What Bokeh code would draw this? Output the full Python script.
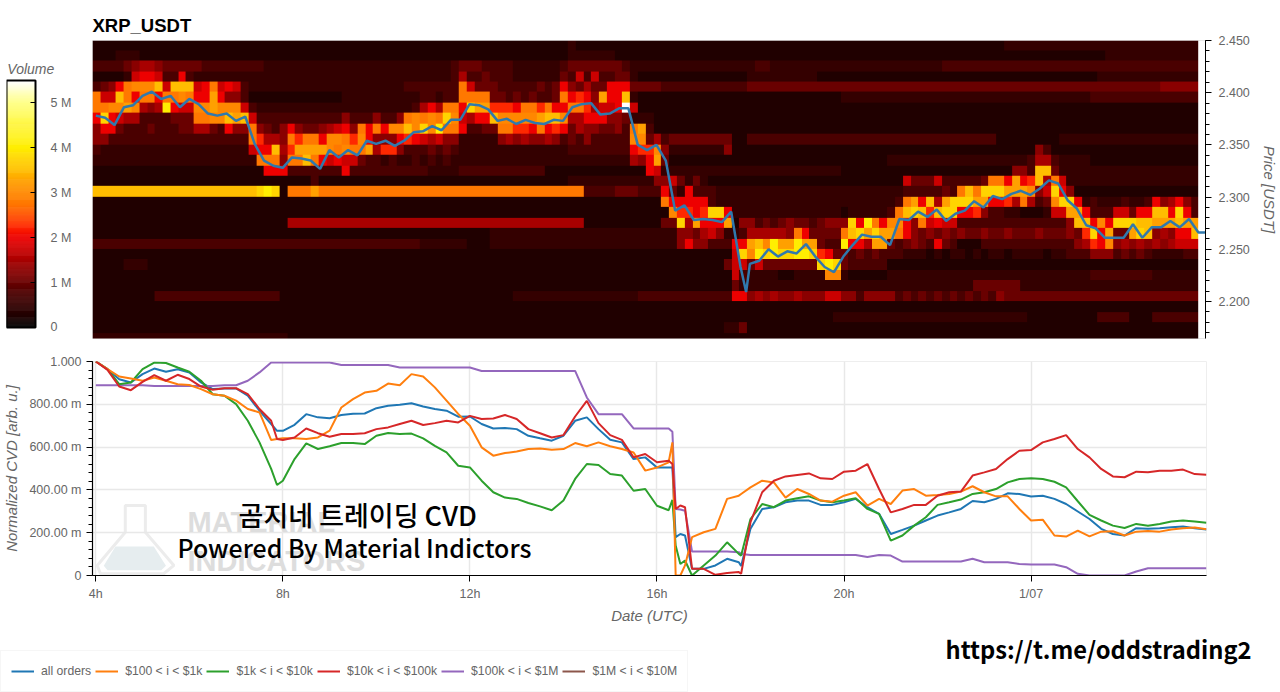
import numpy as np

from bokeh.embed import file_html
from bokeh.layouts import column, row
from bokeh.models import FixedTicker, Label, Legend, LegendItem, LinearColorMapper, Range1d
from bokeh.plotting import figure
from bokeh.resources import INLINE

# heatmap: one string per price bin (top = 2.44-2.45), one char per 10 min column
# char is volume in units of 0.25 M (base 23, so m = 5.5 M)
heat_rows = [
    "1111111111 1111111111 1111111111 1111111111 1111111111 1111111111 1211111111 1111111111 1111111111 1111111111 1111111111 1111111222 2222222222 2222222222 22",
    "1112221111 1111111111 1111111111 1111111111 1111111111 1111111111 1222222111 1111111111 1111111111 1111111111 1111111111 1111111111 1111111111 2222222222 22",
    "3333456654 4444333333 3322222222 2222222222 2222223444 3333222222 3444444432 2222222222 2222233222 2222222222 2222222223 3333333333 3333333333 3333333333 33",
    "1111278873 3832222222 2222222222 2222222222 2222223633 4333222222 4373733442 1111111111 1111222222 2221111111 1111111111 1111111111 1111111112 2222222222 22",
    "3458bccce7 eee78b7873 2222222222 2222222222 3333333b74 4433333434 8546448884 4443333333 3333444444 4444444444 4444444444 4444444444 4444444444 4444444555 55",
    "b77eb8bb8b bcb88d8553 1111111111 1122222222 2233233bbb b443434334 b8985d88e2 1111111111 1111111111 1111112222 2222222222 2222222222 2222222233 3333333333 33",
    "bbccdc656g 877ccdccc7 3222222222 2222222222 23686bb8fd d9998bb9b8 8bb96778m7 1111111111 1111111111 1111111111 1111111111 1111111111 1111111111 1111111111 11",
    "8f87663333 444bbccede 7333333333 3353335335 bcbcbfc768 8ecccccdee c668885542 2211111111 1111111111 1111111111 1111111111 1111111111 1111111111 1111111111 11",
    "5884333433 3446643855 b543585445 6785b8b8cc ecfcgbb833 44bb998b89 846554453b d311111111 1111111111 1111111111 1111111111 1111111111 1111111111 1111111111 11",
    "5533333333 3333333333 b9665b9bb8 ccb9c85558 9876755222 2256565565 343533333c c463444444 4411333333 3333333333 3333333333 3333331111 1111222222 2222222222 22",
    "3222222222 2222222222 788e69dddd cbcbbd6995 3334343222 2222222222 2333333338 99c5222222 2511111111 1111111111 1111111111 1111111111 1531111111 1111111111 11",
    "2222222222 2222222222 2bbb5bbeb8 7877433232 2323232222 2222222222 2222222226 58d4111111 1111111111 1111111111 1122222222 2222222222 3663222211 1111111111 11",
    "1111111111 1111111111 1188833333 3383333333 3332222333 3333333311 1111111111 1872222222 2222222222 2222221111 1111111111 1111111155 3ee4222222 2222222222 22",
    "1111111111 1111111111 1111111131 1111111111 1111111111 1111111111 1222222222 2255742421 1111111111 1111111111 1111744473 33334bb8d8 9e6b722222 2222222222 22",
    "eeeeeeeeee eeeeeeeeee efgf1bbbdb bbbbbbbbbb bbbbbbbbbb bbbbbbbbbb bbb3333444 3338428333 2222222222 2222222222 2222333334 3bebfffddd c57f851111 1111111111 11",
    "1111111111 1111111111 1111111111 1111111111 1111111111 1111111111 1111111111 111b888883 2222222222 2222222222 2223bd8e6d fffdd8896b 634cff8232 2232238568 53",
    "1111111111 1111111111 1111111111 1111111111 1111111111 1111111111 1111111111 1111c9989f f822222222 2222221222 223befe9ef f889533221 11277dd833 377488ee8f 83",
    "1111111111 1111111111 1111166666 6666666666 6666666666 6666666666 6661111111 11144f6d88 8d15534345 4434555f8g b8cc85b787 7333333333 333335ee8c 8fffeeddde dd",
    "1111111111 1111111111 1111111111 1111111111 1111111111 1222222222 2222222222 2222255467 5223666665 b84444befd fddb854545 4544544544 45444549f8 d44dfe5658 8e",
    "3333333333 3333333333 3333333333 3333333333 3322222211 1222222222 2222222222 2222258553 3388decgdd gdd433g886 dd43454384 3111333333 3333335698 c565656567 77",
    "1111111111 1111111111 1111111111 1111111111 1111111111 1111111111 1111111111 1111111111 117fcgfgff ggf9844343 4333222121 2212122122 2212233355 5343432222 33",
    "1111222111 1111111111 1111111111 1111111111 1111111111 1111111111 1111111111 1111111111 1477474444 444fgf4333 3311111111 1111111111 1111111111 1111111111 11",
    "1111111111 1111111111 1111111111 1111111111 1111111111 1111111111 1111111111 1111111111 1173222211 2222cc2111 1122222222 2222222222 2222222233 3333332222 22",
    "1111111111 1111111111 1111111111 1111111111 1111111111 1111111111 1111111111 1111111111 1142222222 2222222222 2222222222 2224444442 2222222222 2222222222 22",
    "1111111133 3333333333 3333111111 1111111111 1111111111 1111222222 2222222222 3333333333 3388565655 6555775535 5553434343 4343435444 4444444444 4444444444 44",
    "1111111111 1111111111 1111111111 1111111111 1111111111 1111111111 1111111111 1111111111 1111111111 1111111111 1111111111 1111111111 1111111111 1111111111 11",
    "1111111111 1111111111 1111111111 1111111111 1111111111 1111111111 1111111111 1111111111 1111111111 1111122222 2222222222 2222222222 1111111113 3331113333 33",
    "1111111111 1111111111 1111111111 1111111111 1111111111 1111111111 1111111111 1111111111 1224111111 1111111111 1111111111 1111111111 1111111111 1111111111 11",
    "2222222222 2222222222 2222211111 1111111111 1111111111 1111111111 1111111111 1111111111 1111111111 1111111111 1111111111 1111111111 1111111111 1111111111 11",
]

price_hours = [4.0, 4.2, 4.4, 4.6, 4.8, 5.0, 5.2, 5.4, 5.6, 5.8, 6.0, 6.2, 6.4, 6.6, 6.8, 7.0, 7.2, 7.4, 7.6, 7.8,
               8.0, 8.2, 8.4, 8.6, 8.8, 9.0, 9.2, 9.4, 9.6, 9.8, 10.0, 10.2, 10.4, 10.6, 10.8, 11.0, 11.2, 11.4, 11.6, 11.8,
               12.0, 12.2, 12.4, 12.6, 12.8, 13.0, 13.2, 13.4, 13.6, 13.8, 14.0, 14.2, 14.4, 14.6, 14.8, 15.0, 15.2, 15.4, 15.6, 15.8,
               16.0, 16.2, 16.4, 16.6, 16.8, 17.0, 17.2, 17.4, 17.6, 17.8, 17.92, 18.0, 18.2, 18.4, 18.6, 18.8, 19.0, 19.2, 19.4, 19.6, 19.8,
               20.0, 20.2, 20.4, 20.6, 20.8, 21.0, 21.2, 21.4, 21.6, 21.8, 22.0, 22.2, 22.4, 22.6, 22.8, 23.0, 23.2, 23.4, 23.6, 23.8,
               24.0, 24.2, 24.4, 24.6, 24.8, 25.0, 25.2, 25.4, 25.6, 25.8, 26.0, 26.2, 26.4, 26.6, 26.8, 27.0, 27.2, 27.4, 27.6, 27.75]
price = [2.378, 2.376, 2.369, 2.386, 2.388, 2.397, 2.401, 2.394, 2.397, 2.386, 2.394, 2.389, 2.380, 2.378, 2.380, 2.373, 2.377, 2.351, 2.335, 2.330,
         2.328, 2.338, 2.337, 2.335, 2.327, 2.345, 2.338, 2.345, 2.340, 2.354, 2.351, 2.354, 2.349, 2.354, 2.362, 2.363, 2.368, 2.364, 2.374, 2.374,
         2.389, 2.388, 2.384, 2.373, 2.375, 2.370, 2.374, 2.371, 2.370, 2.374, 2.373, 2.386, 2.389, 2.390, 2.379, 2.380, 2.385, 2.385, 2.350, 2.345,
         2.350, 2.335, 2.287, 2.292, 2.278, 2.279, 2.278, 2.276, 2.286, 2.233, 2.209, 2.236, 2.239, 2.250, 2.243, 2.248, 2.246, 2.255, 2.243, 2.233, 2.228,
         2.243, 2.254, 2.264, 2.262, 2.262, 2.254, 2.279, 2.278, 2.286, 2.281, 2.288, 2.277, 2.284, 2.287, 2.296, 2.290, 2.301, 2.298, 2.303, 2.306,
         2.302, 2.308, 2.316, 2.313, 2.297, 2.289, 2.273, 2.270, 2.261, 2.261, 2.261, 2.274, 2.261, 2.271, 2.271, 2.277, 2.271, 2.279, 2.266, 2.266]

# cvd values in milli units
cvd_hours = [4, 4.25, 4.5, 4.75, 5, 5.25, 5.5, 5.75, 6, 6.25, 6.5, 6.75, 7, 7.25, 7.5, 7.75, 7.875,
             8, 8.25, 8.5, 8.75, 9, 9.25, 9.5, 9.75, 10, 10.25, 10.5, 10.75, 11, 11.25, 11.5, 11.75,
             12, 12.25, 12.5, 12.75, 13, 13.25, 13.5, 13.75, 14, 14.25, 14.5, 14.75, 15, 15.25, 15.5, 15.75,
             16, 16.25, 16.33, 16.4, 16.5, 16.6, 16.75, 17, 17.25, 17.5, 17.75, 17.8,
             18, 18.25, 18.5, 18.75, 19, 19.25, 19.5, 19.75, 20, 20.25, 20.5, 20.75, 21, 21.25, 21.5, 21.75,
             22, 22.25, 22.5, 22.75, 23, 23.25, 23.5, 23.75, 24, 24.25, 24.5, 24.75, 25, 25.25, 25.5, 25.75,
             26, 26.25, 26.5, 26.75, 27, 27.25, 27.5, 27.75]
cvd_all = [1000, 964, 917, 902, 941, 967, 952, 964, 949, 902, 871, 874, 874, 840, 770, 708, 676,
           676, 704, 754, 739, 735, 750, 756, 757, 782, 793, 798, 805, 790, 778, 770, 742,
           743, 708, 687, 689, 684, 653, 641, 630, 653, 723, 739, 684, 634, 622, 544, 552,
           505, 505, 505, 179, 194, 187, 31, 31, 47, 78, 62, 44,
           218, 311, 319, 342, 350, 350, 330, 330, 342, 358, 319, 288, 194, 213, 233, 257,
           280, 295, 311, 348, 342, 358, 384, 381, 369, 373, 358, 334, 299, 264, 218, 194,
           187, 221, 218, 221, 225, 229, 221, 215]
cvd_100_1k = [1000, 964, 930, 921, 910, 925, 910, 894, 890, 871, 847, 840, 817, 778, 762, 633, 638,
              641, 641, 638, 645, 677, 785, 824, 855, 863, 897, 889, 941, 930, 879, 817, 755,
              700, 599, 560, 572, 579, 591, 594, 588, 591, 619, 604, 622, 604, 591, 575, 490,
              505, 529, 622, 0, 0, 47, 179, 202, 218, 358, 373, 381,
              412, 443, 435, 364, 404, 381, 350, 345, 373, 389, 327, 358, 334, 397, 404, 373,
              376, 381, 392, 417, 389, 370, 370, 311, 257, 261, 187, 182, 210, 183, 205, 207,
              187, 205, 208, 205, 215, 221, 224, 216]
cvd_1k_10k = [1000, 964, 894, 902, 964, 995, 993, 972, 952, 910, 847, 840, 801, 723, 622, 498, 423,
              443, 544, 617, 591, 604, 619, 619, 614, 653, 666, 661, 663, 641, 606, 575, 513,
              505, 443, 389, 364, 358, 339, 323, 305, 350, 451, 521, 516, 474, 467, 396, 404,
              326, 305, 353, 140, 54, 70, 0, 47, 93, 155, 101, 93,
              264, 334, 319, 350, 361, 370, 350, 342, 350, 361, 311, 288, 163, 187, 233, 272,
              330, 342, 355, 381, 389, 404, 435, 451, 454, 451, 438, 412, 347, 283, 257, 233,
              222, 241, 233, 241, 252, 257, 252, 246]
cvd_10k_100k = [1000, 961, 883, 866, 905, 936, 910, 938, 918, 883, 868, 875, 875, 848, 778, 723, 638,
                633, 645, 687, 665, 648, 661, 661, 665, 684, 692, 708, 723, 703, 712, 723, 715,
                746, 731, 734, 750, 731, 684, 665, 645, 656, 743, 816, 712, 656, 634, 552, 568,
                529, 536, 521, 311, 327, 319, 31, 31, 3, 12, 16, 8,
                249, 389, 443, 463, 470, 477, 454, 451, 485, 490, 521, 404, 295, 311, 330, 330,
                373, 389, 392, 467, 482, 498, 544, 583, 586, 622, 638, 656, 591, 552, 498, 463,
                459, 485, 482, 490, 490, 495, 474, 471]
cvd_100k_1m = [889, 889, 889, 889, 889, 886, 886, 886, 886, 886, 886, 889, 889, 910, 949, 995, 995,
               995, 995, 995, 995, 995, 984, 984, 984, 984, 984, 972, 972, 972, 972, 972, 972,
               972, 956, 956, 956, 956, 956, 956, 956, 956, 956, 832, 754, 754, 754, 687, 687,
               687, 687, 672, 311, 308, 303, 112, 112, 112, 112, 109, 101,
               96, 96, 96, 96, 96, 96, 96, 96, 96, 96, 86, 96, 93, 65, 65, 65,
               65, 65, 65, 78, 62, 62, 62, 54, 51, 51, 51, 39, 8, 0, 0, 0,
               0, 19, 34, 34, 34, 34, 34, 34]

legend_labels = ["all orders", "$100 < i < $1k", "$1k < i < $10k", "$10k < i < $100k", "$100k < i < $1M", "$1M < i < $10M"]
legend_colors = ["#1f77b4", "#ff7f0e", "#2ca02c", "#d62728", "#9467bd", "#8c564b"]

cvd_ticks = [0, 200, 400, 600, 800, 1000]
cvd_tick_labels = ["0", "200.00 m", "400.00 m", "600.00 m", "800.00 m", "1.000"]
time_ticks = [4, 8, 12, 16, 20, 24]
time_tick_labels = ["4h", "8h", "12h", "16h", "20h", "1/07"]
volume_ticks = [0, 1000000, 2000000, 3000000, 4000000, 5000000]
volume_tick_labels = ["0", "1 M", "2 M", "3 M", "4 M", "5 M"]

# watermark shapes, behind the lines
flask_x = [4.67, 5.06, 5.06, 5.67, 5.45, 4.10, 4.03, 4.63, 4.63]
flask_y = [327, 327, 202, 47, 8, 8, 47, 202, 327]
flask_liquid_x = [4.42, 5.24, 5.5, 5.4, 4.25, 4.17]
flask_liquid_y = [135, 135, 45, 25, 25, 45]

assert len(price_hours) == len(price)
for s in (cvd_all, cvd_100_1k, cvd_1k_10k, cvd_10k_100k, cvd_100k_1m):
    assert len(s) == len(cvd_hours), len(s)

GREY = "#666666"
x_start, x_end = 3.929, 27.752

# hot style colormap
stops = [0, 0.25, 0.5, 0.75, 1.0, 1.25, 1.5, 1.75, 2.0, 2.25, 2.75, 3.0, 3.25, 3.5, 3.75, 4.0, 5.0, 5.5]
stop_colors = [(0, 0, 0), (34, 0, 0), (53, 0, 0), (76, 0, 0), (106, 0, 0), (138, 0, 0), (170, 0, 0), (204, 0, 0),
               (238, 0, 0), (255, 42, 0), (255, 120, 0), (255, 136, 0), (255, 160, 0), (255, 190, 0), (255, 212, 0),
               (255, 238, 0), (255, 255, 130), (255, 255, 255)]
grid = np.linspace(0, 5.5, 256)
channels = [np.interp(grid, stops, [c[i] for c in stop_colors]) for i in range(3)]
palette = ["#%02x%02x%02x" % (int(r), int(g), int(b)) for r, g, b in zip(*channels)]
mapper = LinearColorMapper(palette=palette, low=0, high=5500000)

heat = np.array([[int(ch, 23) * 250000 for ch in r.replace(" ", "")] for r in heat_rows], dtype=float)
# bottom row first for image, repeated so the cell edges stay sharp
heat_img = np.repeat(np.repeat(heat[::-1], 4, axis=0), 4, axis=1)

# colour bar as its own small figure, frame same height as the heatmap so the row lines up
# frame runs past the bar so the Volume text is not clipped, axis sits at the bar's edge
cb = figure(width=92, height=348, x_range=Range1d(0, 86 / 29), y_range=Range1d(-245000, 6390000), tools="",
            toolbar_location=None, output_backend="svg", y_axis_location="right",
            min_border_left=6, min_border_right=0, min_border_top=40, min_border_bottom=10)
edges = np.linspace(0, 5500000, 257)
cb.quad(left=0, right=1, bottom=edges[:-1], top=edges[1:], fill_color=palette, line_color=palette, line_width=0.5)
cb.quad(left=0, right=1, bottom=0, top=5500000, fill_color=None, line_color="black", line_width=2)
cb.xaxis.visible = False
cb.grid.visible = False
cb.outline_line_color = None
cb.yaxis.fixed_location = 1
cb.yaxis.ticker = FixedTicker(ticks=volume_ticks, minor_ticks=[])
cb.yaxis.major_label_overrides = dict(zip(volume_ticks, volume_tick_labels))
cb.yaxis.axis_line_color = None
cb.yaxis.major_tick_in = 5
cb.yaxis.major_tick_out = 0
cb.yaxis.major_tick_line_color = "black"
cb.yaxis.major_label_standoff = 15
cb.yaxis.major_label_text_font = "Liberation Sans"
cb.yaxis.major_label_text_font_size = "12.5px"
cb.yaxis.major_label_text_color = GREY
cb.add_layout(Label(x=0.03, y=5500000, y_offset=3, text="Volume", text_font="Liberation Sans", text_font_size="14px",
                    text_font_style="italic", text_color=GREY))

top = figure(width=1188, height=348, x_range=Range1d(x_start, x_end), y_range=Range1d(2.1645, 2.45),
             tools="", toolbar_location=None, output_backend="svg", y_axis_location="right",
             min_border_left=0, min_border_right=74, min_border_top=40, min_border_bottom=10,
             title="XRP_USDT")
top.title.text_font = "Liberation Sans"
top.title.text_font_size = "18.5px"
top.title.text_font_style = "bold"
top.title.text_color = "black"
top.title.offset = 0
top.xaxis.visible = False
top.grid.visible = False
top.outline_line_color = "#e8e8e8"

top.image(image=[heat_img], x=x_start, y=2.16, dw=142 / 6, dh=0.29, color_mapper=mapper)
top.line(price_hours, price, line_color="#3079ad", line_width=2.5)

top.yaxis.ticker = FixedTicker(ticks=[2.20, 2.25, 2.30, 2.35, 2.40, 2.45],
                               minor_ticks=[2.17 + 0.01 * i for i in range(29)])
top.yaxis.major_label_overrides = {2.2: "2.200", 2.25: "2.250", 2.3: "2.300", 2.35: "2.350", 2.4: "2.400", 2.45: "2.450"}
top.yaxis.axis_label = "Price [USDT]"
top.yaxis.axis_label_text_font = "Liberation Sans"
top.yaxis.axis_label_text_font_size = "15px"
top.yaxis.axis_label_text_font_style = "italic"
top.yaxis.axis_label_text_color = GREY
top.yaxis.axis_label_standoff = 8
top.yaxis.major_label_standoff = 7
top.yaxis.major_label_text_font = "Liberation Sans"
top.yaxis.major_label_text_font_size = "12.5px"
top.yaxis.major_label_text_color = GREY
top.yaxis.axis_line_color = "black"
top.yaxis.major_tick_line_color = "black"
top.yaxis.minor_tick_line_color = "black"
top.yaxis.major_tick_in = 0
top.yaxis.major_tick_out = 6
top.yaxis.minor_tick_in = 0
top.yaxis.minor_tick_out = 4

bottom = figure(width=1280, height=284, x_range=top.x_range, y_range=Range1d(0, 1000),
                tools="", toolbar_location=None, output_backend="svg",
                min_border_left=92, min_border_right=74, min_border_top=13, min_border_bottom=57)
bottom.outline_line_color = "#eeeeee"
bottom.grid.grid_line_color = "#e8e8e8"
bottom.grid.grid_line_width = 1.5

bottom.patch(flask_liquid_x, flask_liquid_y, fill_color="#e6edef", line_color=None, level="underlay")
bottom.patch(flask_x, flask_y, fill_color=None, line_color="#ececec", line_width=3, level="underlay")
for txt, h, v in [("MATERIAL", 5.96, 252), ("INDICATORS", 5.96, 70)]:
    bottom.add_layout(Label(x=h, y=v, text=txt, text_font="Liberation Sans", text_font_size="29px",
                            text_font_style="bold", text_color="#dddddd", text_baseline="middle", level="underlay"))

r_all = bottom.line(cvd_hours, cvd_all, line_color=legend_colors[0], line_width=2)
r_100k = bottom.line(cvd_hours, cvd_100k_1m, line_color=legend_colors[4], line_width=2)
r_green = bottom.line(cvd_hours, cvd_1k_10k, line_color=legend_colors[2], line_width=2)
r_orange = bottom.line(cvd_hours, cvd_100_1k, line_color=legend_colors[1], line_width=2)
r_red = bottom.line(cvd_hours, cvd_10k_100k, line_color=legend_colors[3], line_width=2)

bottom.xaxis.ticker = FixedTicker(ticks=time_ticks)
bottom.xaxis.major_label_overrides = dict(zip(time_ticks, time_tick_labels))
bottom.xaxis.axis_label = "Date (UTC)"
bottom.yaxis.ticker = FixedTicker(ticks=cvd_ticks, minor_ticks=[40 * i for i in range(26)])
bottom.yaxis.major_label_overrides = dict(zip(cvd_ticks, cvd_tick_labels))
bottom.yaxis.axis_label = "Normalized CVD [arb. u.]"
for ax in (bottom.xaxis, bottom.yaxis):
    ax.axis_label_text_font = "Liberation Sans"
    ax.axis_label_text_font_size = "15px"
    ax.axis_label_text_font_style = "italic"
    ax.axis_label_text_color = GREY
    ax.major_label_text_font = "Liberation Sans"
    ax.major_label_text_font_size = "12.5px"
    ax.major_label_text_color = GREY
    ax.axis_line_color = "black"
    ax.axis_line_width = 1.2
    ax.major_tick_line_color = "black"
    ax.major_tick_in = 0
    ax.major_tick_out = 6
    ax.minor_tick_in = 0
bottom.xaxis.minor_tick_line_color = None
bottom.yaxis.minor_tick_line_color = "black"
bottom.yaxis.minor_tick_out = 4
bottom.xaxis.axis_label_standoff = 3
bottom.yaxis.axis_label_standoff = 6

for txt, h, v, size in [("곰지네 트레이딩 CVD", 9.6, 285, "27px"),
                        ("Powered By Material Indictors", 9.53, 135, "24.9px")]:
    bottom.add_layout(Label(x=h, y=v, text=txt, text_font="Noto Sans CJK KR Medium", text_font_size=size,
                            text_color="black", text_align="center", text_baseline="middle"))

# strip under the chart for the legend and the link, x and y in page pixels
foot = figure(width=1280, height=60, x_range=Range1d(0, 1280), y_range=Range1d(692, 632), tools="",
              toolbar_location=None, output_backend="svg", min_border=0)
foot.axis.visible = False
foot.grid.visible = False
foot.outline_line_color = None
# legend needs a renderer with data, these sit outside the strip
foot_lines = [foot.line([-50, -40], [700, 700], line_color=c, line_width=2) for c in legend_colors]
legend = Legend(items=[LegendItem(label=l, renderers=[r]) for l, r in zip(legend_labels, foot_lines)],
                orientation="horizontal", location=(0, 0), spacing=4, padding=10, margin=0,
                label_text_font="Liberation Sans", label_text_font_size="12.2px", label_text_color=GREY,
                label_standoff=7, glyph_width=23, border_line_color="#eeeeee", background_fill_alpha=1)
foot.add_layout(legend)
foot.add_layout(Label(x=1098, y=648, text="https://t.me/oddstrading2", text_font="Noto Sans CJK KR",
                      text_font_size="23.7px", text_font_style="bold", text_color="black", text_align="center",
                      text_baseline="middle"))

page = column(row(cb, top, spacing=0), row(bottom), row(foot), spacing=0)
open("out.html", "w").write(file_html(page, INLINE))
